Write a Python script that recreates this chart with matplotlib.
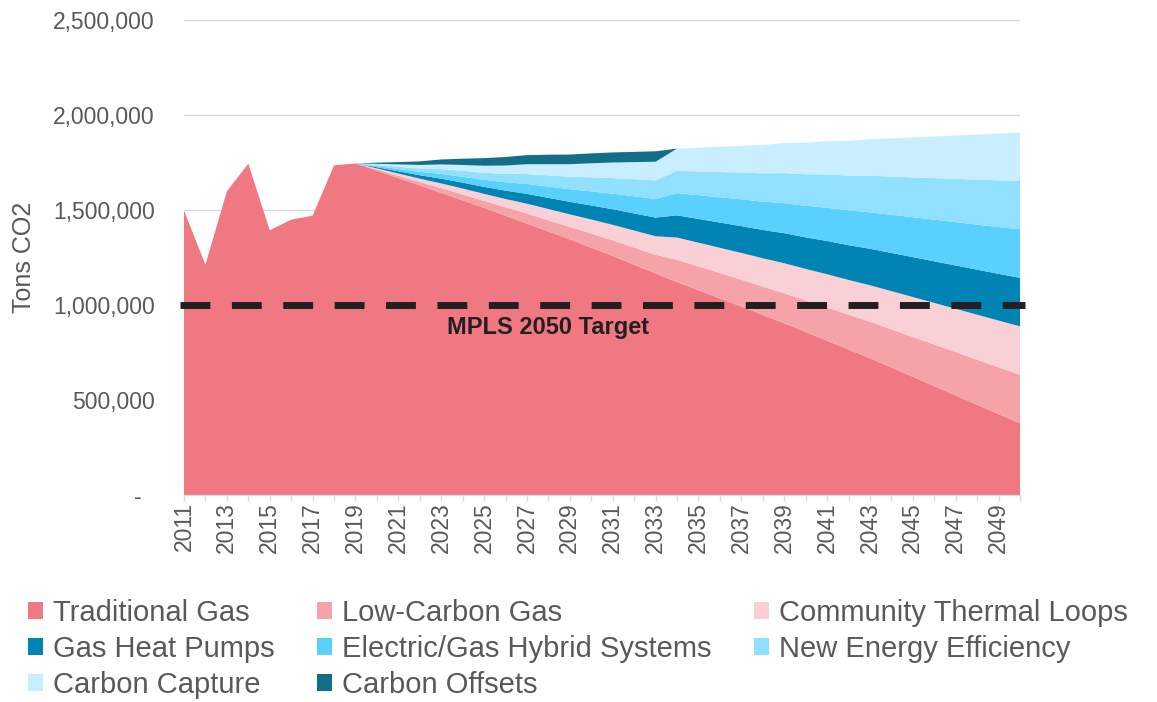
import numpy as np
import matplotlib
matplotlib.use("Agg")
import matplotlib.pyplot as plt
from matplotlib.patches import Patch
from matplotlib.ticker import FuncFormatter

plt.rcParams["font.family"] = ["Liberation Sans", "DejaVu Sans"]

# Werte in Tausend Tonnen CO2
years = list(range(2011, 2051))

traditional_gas = [1497, 1212, 1598, 1744, 1393, 1449, 1470, 1735, 1745,
                   1707, 1668, 1629, 1590, 1551, 1511, 1470, 1429, 1387, 1345,
                   1302, 1258, 1212, 1166, 1121, 1078, 1035, 992, 948, 904,
                   858, 812, 766, 720, 671, 622, 573, 524, 475, 426, 378]
low_carbon_gas = [0, 0, 0, 0, 0, 0, 0, 0, 0,
                  6, 12, 18, 25, 31, 37, 44, 52, 59, 66, 74, 82, 90, 98,
                  117, 125, 133, 141, 149, 158, 166, 175, 183, 192, 201, 210,
                  219, 228, 237, 246, 255]
thermal_loops = [0, 0, 0, 0, 0, 0, 0, 0, 0,
                 6, 12, 18, 25, 31, 37, 44, 52, 59, 66, 74, 82, 90, 98,
                 117, 125, 133, 141, 149, 158, 166, 175, 183, 192, 201, 210,
                 219, 228, 237, 246, 255]
gas_heat_pumps = [0, 0, 0, 0, 0, 0, 0, 0, 0,
                  6, 12, 18, 25, 31, 37, 44, 52, 59, 66, 74, 82, 90, 98,
                  117, 125, 133, 141, 149, 158, 166, 175, 183, 192, 201, 210,
                  219, 228, 237, 246, 255]
hybrid_systems = [0, 0, 0, 0, 0, 0, 0, 0, 0,
                  6, 12, 18, 25, 31, 37, 44, 52, 59, 66, 74, 82, 90, 98,
                  117, 125, 133, 141, 149, 158, 166, 175, 183, 192, 201, 210,
                  219, 228, 237, 246, 255]
energy_efficiency = [0, 0, 0, 0, 0, 0, 0, 0, 0,
                     6, 12, 18, 25, 31, 37, 44, 52, 59, 66, 74, 82, 90, 98,
                     117, 125, 133, 141, 149, 158, 166, 175, 183, 192, 201, 210,
                     219, 228, 237, 246, 255]
carbon_capture = [0, 0, 0, 0, 0, 0, 0, 0, 0,
                  6, 12, 18, 25, 31, 37, 44, 52, 59, 66, 74, 82, 90, 98,
                  117, 125, 133, 141, 149, 158, 166, 175, 183, 192, 201, 210,
                  219, 228, 237, 246, 255]
carbon_offsets = [0, 0, 0, 0, 0, 0, 0, 0, 0,
                  6, 12, 19, 26, 33, 40, 45, 48, 50, 51, 52, 53, 54, 55,
                  0, 0, 0, 0, 0, 0, 0, 0, 0, 0, 0, 0,
                  0, 0, 0, 0, 0]

target = 1_000_000

labels = ["Traditional Gas", "Low-Carbon Gas", "Community Thermal Loops",
          "Gas Heat Pumps", "Electric/Gas Hybrid Systems", "New Energy Efficiency",
          "Carbon Capture", "Carbon Offsets"]
colors = ["#F07882", "#F5A3A9", "#F9D0D5", "#0084B4",
          "#59D0FF", "#92E0FF", "#C9EEFF", "#136E87"]

serien = [traditional_gas, low_carbon_gas, thermal_loops, gas_heat_pumps,
          hybrid_systems, energy_efficiency, carbon_capture, carbon_offsets]
serien = [np.array(s) * 1000 for s in serien]

fig = plt.figure(figsize=(11.57, 7.02), dpi=100)
ax = fig.add_axes([184 / 1157, 1 - 495 / 702, 836 / 1157, 475 / 702])

ax.stackplot(years, *serien, colors=colors, labels=labels, linewidth=0, zorder=2)

# Zielwert als gestrichelte Linie
ax.plot([years[0] - 0.2, years[-1] + 0.25], [target, target], color="#231F20",
        lw=5, dashes=(4.3, 3.1), clip_on=False, zorder=5)
ax.annotate("MPLS 2050 Target", xy=(2028, target), xytext=(0, -16.5),
            textcoords="offset points", ha="center", va="center",
            fontsize=17, fontweight="bold", color="#231F20")

ax.set_xlim(years[0], years[-1])
ax.set_ylim(0, 2_500_000)
ax.set_yticks(np.arange(0, 2_500_001, 500_000))
ax.yaxis.set_major_formatter(FuncFormatter(lambda v, p: "-  " if v == 0 else f"{v:,.0f}"))
ax.set_xticks(years)
ax.set_xticklabels([str(j) if (j - years[0]) % 2 == 0 else "" for j in years], rotation=90)

ax.grid(axis="y", color="#D9D9D9", lw=1.0, zorder=0)
ax.set_axisbelow(True)
for s in ["top", "right", "left"]:
    ax.spines[s].set_visible(False)
ax.spines["bottom"].set_color("#D9D9D9")
ax.tick_params(axis="y", length=0, pad=21, labelsize=16.5, labelcolor="#595959")
ax.tick_params(axis="x", length=4.5, width=1, color="#D9D9D9", pad=0.5,
               labelsize=16.5, labelcolor="#595959")

ax.set_ylabel("Tons CO2", fontsize=18, color="#595959")
ax.yaxis.set_label_coords(-0.177, 0.5)

# Legende zeilenweise wie in der Vorlage (matplotlib füllt spaltenweise)
handles = [Patch(facecolor=c, label=l) for c, l in zip(colors, labels)]
reihenfolge = [0, 3, 6, 1, 4, 7, 2, 5]
fig.legend(handles=[handles[i] for i in reihenfolge], loc="upper left",
           bbox_to_anchor=(28 / 1157, 1 - 599 / 702), ncol=3, frameon=False,
           fontsize=21, handlelength=0.52, handleheight=0.52, handletextpad=0.34,
           columnspacing=1.45, labelspacing=0.28, borderpad=0, borderaxespad=0,
           labelcolor="#595959")

fig.savefig("out.png", dpi=100)
